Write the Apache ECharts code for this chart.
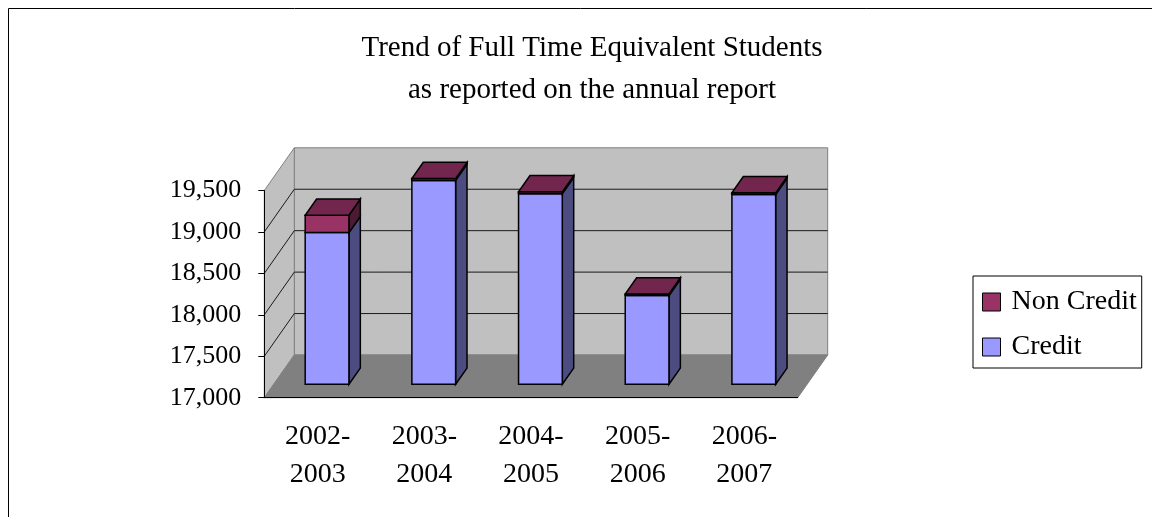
<!DOCTYPE html>
<html>
<head>
<meta charset="utf-8">
<title>Trend of Full Time Equivalent Students</title>
<script src="https://cdn.jsdelivr.net/npm/echarts@6/dist/echarts.min.js"></script>
<style>
  html, body { margin: 0; padding: 0; background: #fff; }
  #chart { width: 1152px; height: 517px; }
</style>
</head>
<body>
<div id="chart"></div>
<script>
const CATEGORIES = ["2002-\n2003", "2003-\n2004", "2004-\n2005", "2005-\n2006", "2006-\n2007"];
const CREDIT = [18830, 19460, 19300, 18070, 19290];
const NON_CREDIT = [210, 22, 22, 20, 20];
const Y_MIN = 17000;
const Y_MAX = 19500;
const Y_STEP = 500;

const FONT = "'Liberation Serif', 'Times New Roman', serif";

// 3d look: full depth of the floor in screen px, and where the bars sit inside it
const DEPTH_X = 30;
const DEPTH_Y = -42.7;
const BAR_FRONT = 0.314;
const BAR_BACK = 0.694;
const BAR_WIDTH = 0.41;

const COLOR = {
  credit: { front: "#9999ff", side: "#4c4c80", top: "#7373bf" },
  nonCredit: { front: "#993366", side: "#4d1a33", top: "#73264d" },
};

function poly(points, fill) {
  return {
    type: "polygon",
    shape: { points },
    style: { fill, stroke: "#000", lineWidth: 1.5, lineJoin: "miter" },
  };
}

function renderBar(colors, withTop) {
  return function (params, api) {
    const i = api.value(0);
    const lo = api.coord([i, api.value(1)]);
    const hi = api.coord([i, api.value(2)]);
    const half = api.size([1, 0])[0] * BAR_WIDTH / 2;
    const fx = DEPTH_X * BAR_FRONT, fy = DEPTH_Y * BAR_FRONT;
    const dx = DEPTH_X * (BAR_BACK - BAR_FRONT), dy = DEPTH_Y * (BAR_BACK - BAR_FRONT);
    const x0 = lo[0] - half + fx, x1 = lo[0] + half + fx;
    const y0 = lo[1] + fy, y1 = hi[1] + fy;
    const children = [
      poly([[x1, y1], [x1 + dx, y1 + dy], [x1 + dx, y0 + dy], [x1, y0]], colors.side),
      poly([[x0, y1], [x1, y1], [x1, y0], [x0, y0]], colors.front),
    ];
    if (withTop) {
      children.push(poly([[x0, y1], [x1, y1], [x1 + dx, y1 + dy], [x0 + dx, y1 + dy]], colors.top));
    }
    return { type: "group", children };
  };
}

function renderWalls(params, api) {
  const cs = params.coordSys;
  const x = cs.x, y = cs.y, w = cs.width, h = cs.height;
  const gray = { stroke: "#808080", lineWidth: 1 };
  const children = [
    { type: "rect", shape: { x: x + DEPTH_X, y: y + DEPTH_Y, width: w, height: h },
      style: Object.assign({ fill: "#c0c0c0" }, gray) },
    { type: "polygon", shape: { points: [[x, y + h], [x, y], [x + DEPTH_X, y + DEPTH_Y], [x + DEPTH_X, y + h + DEPTH_Y]] },
      style: Object.assign({ fill: "#c0c0c0" }, gray) },
    { type: "polygon", shape: { points: [[x, y + h], [x + w, y + h], [x + w + DEPTH_X, y + h + DEPTH_Y], [x + DEPTH_X, y + h + DEPTH_Y]] },
      style: Object.assign({ fill: "#808080" }, gray) },
  ];
  for (let v = Y_MIN + Y_STEP; v < Y_MAX; v += Y_STEP) {
    const yv = api.coord([0, v])[1];
    children.push({ type: "line", shape: { x1: x + DEPTH_X, y1: yv + DEPTH_Y, x2: x + w + DEPTH_X, y2: yv + DEPTH_Y },
      style: { stroke: "#1a1a1a", lineWidth: 1 } });
    children.push({ type: "line", shape: { x1: x, y1: yv, x2: x + DEPTH_X, y2: yv + DEPTH_Y },
      style: { stroke: "#1a1a1a", lineWidth: 1 } });
  }
  return { type: "group", children };
}

const chart = echarts.init(document.getElementById("chart"));

chart.setOption({
  animation: false,
  title: {
    text: "Trend of Full Time Equivalent Students\nas reported on the annual report",
    left: 587,
    top: 22,
    textAlign: "center",
    textStyle: { fontFamily: FONT, fontSize: 29, fontWeight: "normal", color: "#000", lineHeight: 42 },
  },
  legend: {
    orient: "vertical",
    left: 973,
    top: 276,
    icon: "rect",
    itemWidth: 18,
    itemHeight: 18,
    itemGap: 15,
    selectedMode: false,
    borderColor: "#000",
    borderWidth: 1,
    padding: [11, 5, 6, 9],
    itemStyle: { borderColor: "#000", borderWidth: 1 },
    textStyle: { fontFamily: FONT, fontSize: 28, color: "#000", lineHeight: 30, padding: [0, 0, 0, 6] },
    data: [
      { name: "Non Credit", itemStyle: { color: COLOR.nonCredit.front } },
      { name: "Credit", itemStyle: { color: COLOR.credit.front } },
    ],
  },
  graphic: [{
    type: "rect",
    shape: { x: 8.5, y: 8.5, width: 1300, height: 700 },
    style: { fill: "none", stroke: "#000", lineWidth: 1 },
    silent: true,
  }],
  grid: { left: 264.3, top: 190.5, width: 533.4, height: 207.2 },
  xAxis: {
    type: "category",
    data: CATEGORIES,
    axisLine: { lineStyle: { color: "#000", width: 1 } },
    axisTick: { length: 6, lineStyle: { color: "#000" } },
    axisLabel: { fontFamily: FONT, fontSize: 28, color: "#000", lineHeight: 38, margin: 20 },
  },
  yAxis: {
    type: "value",
    min: Y_MIN,
    max: Y_MAX,
    interval: Y_STEP,
    splitLine: { show: false },
    axisLine: { show: true, lineStyle: { color: "#000", width: 1 } },
    axisTick: { show: true, length: 6, lineStyle: { color: "#000" } },
    axisLabel: {
      fontFamily: FONT, fontSize: 26, color: "#000", margin: 23,
      formatter: v => v.toLocaleString("en-US"),
    },
  },
  series: [
    {
      name: "walls",
      type: "custom",
      z: -1,
      silent: true,
      renderItem: renderWalls,
      data: [[0, Y_MIN]],
      tooltip: { show: false },
    },
    {
      name: "Credit",
      type: "custom",
      itemStyle: { color: COLOR.credit.front },
      renderItem: renderBar(COLOR.credit, false),
      data: CREDIT.map((v, i) => [i, Y_MIN, v]),
      encode: { x: 0, y: [1, 2] },
      z: 3,
    },
    {
      name: "Non Credit",
      type: "custom",
      itemStyle: { color: COLOR.nonCredit.front },
      renderItem: renderBar(COLOR.nonCredit, true),
      data: NON_CREDIT.map((v, i) => [i, CREDIT[i], CREDIT[i] + v]),
      encode: { x: 0, y: [1, 2] },
      z: 4,
    },
  ],
});
</script>
</body>
</html>
